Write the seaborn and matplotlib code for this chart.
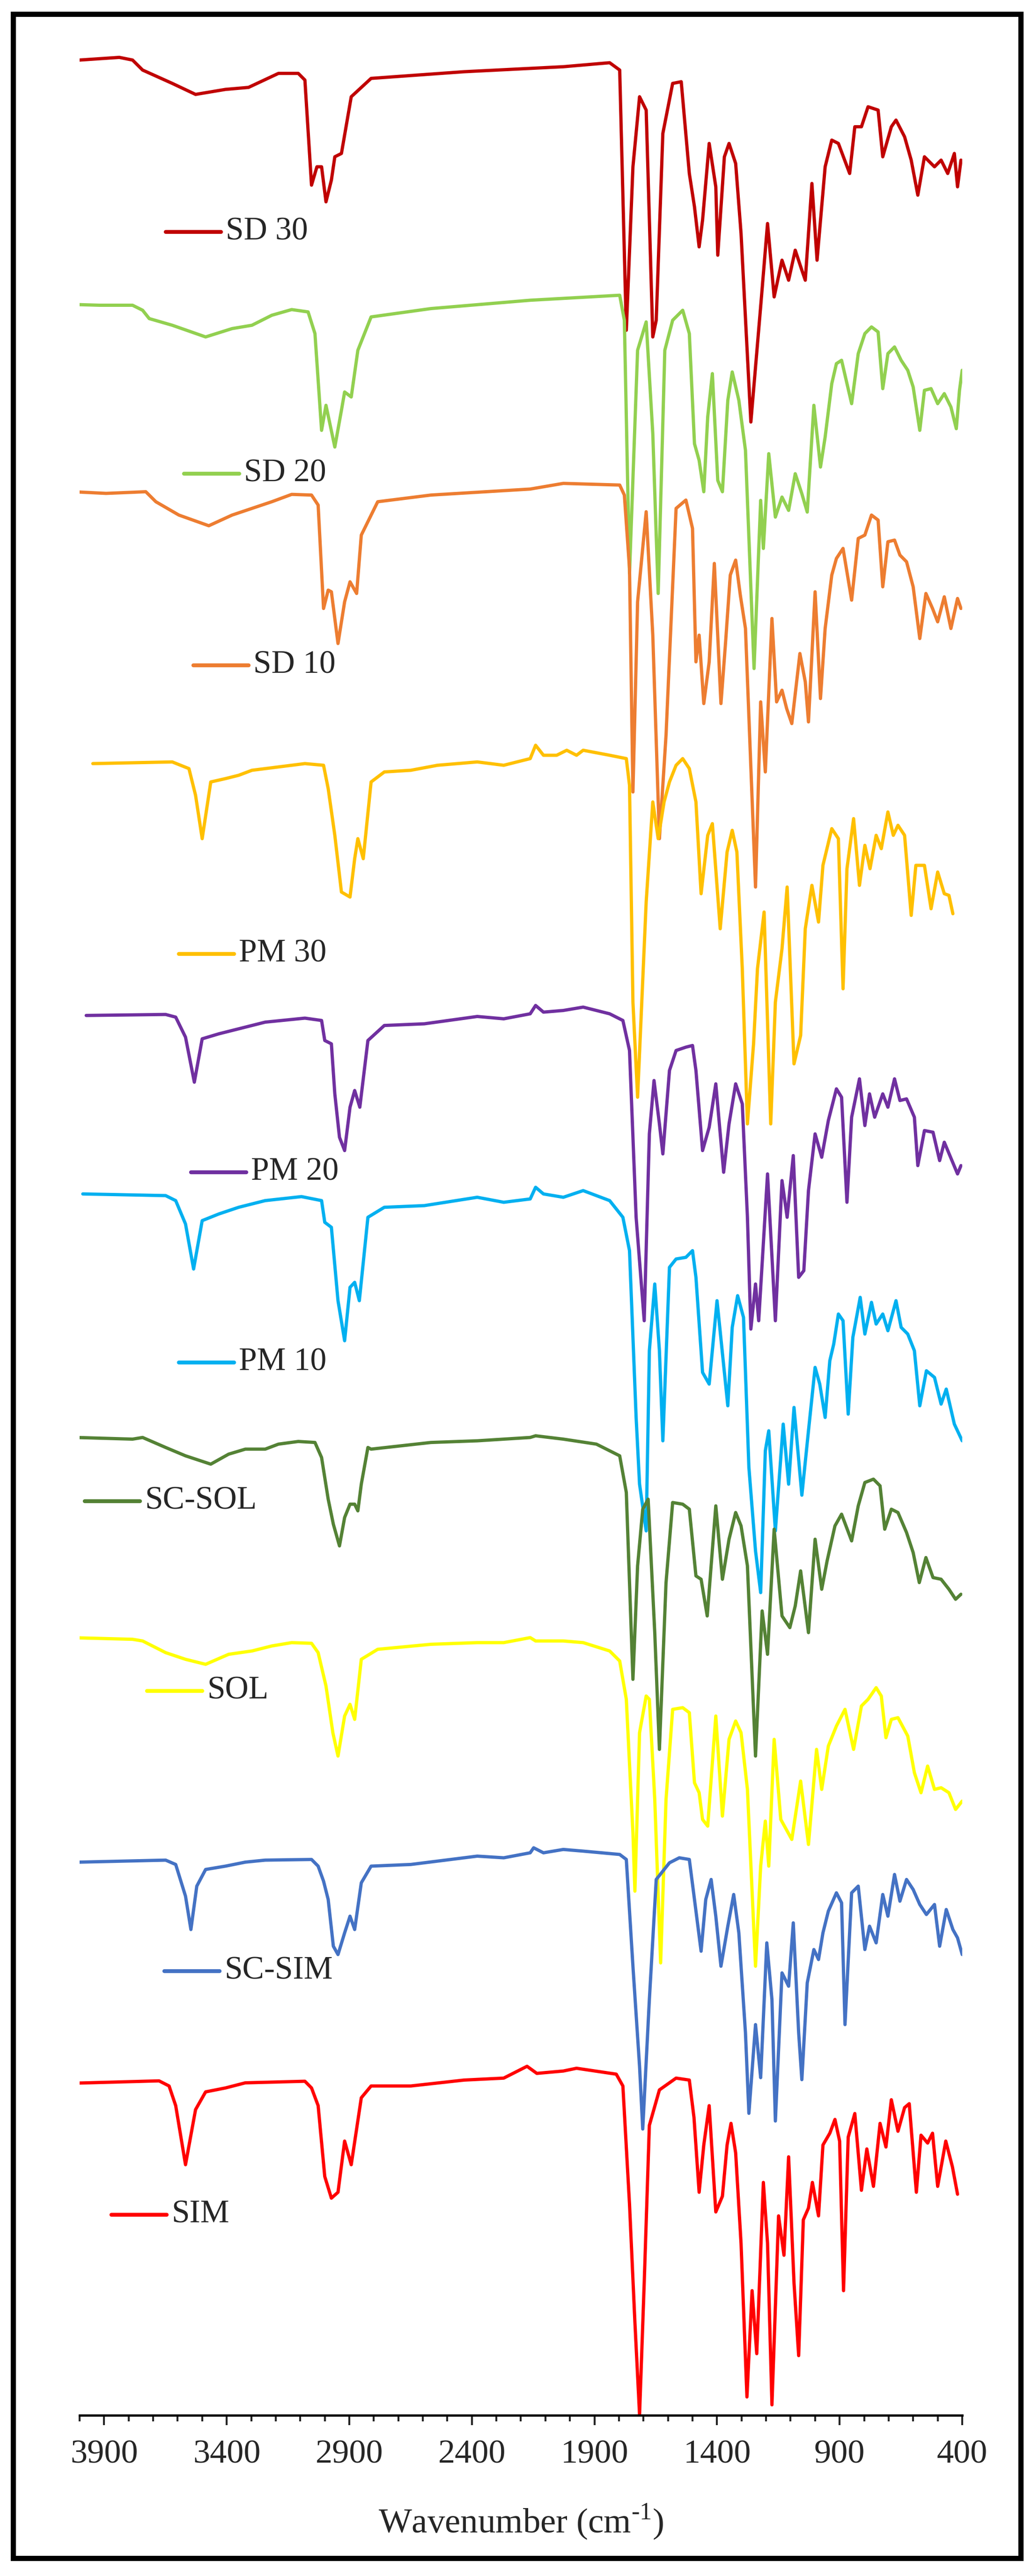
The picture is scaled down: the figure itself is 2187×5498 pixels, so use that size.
import matplotlib
matplotlib.use("Agg")
import matplotlib.pyplot as plt
import seaborn as sns
import pandas as pd
from matplotlib.lines import Line2D
from matplotlib.patches import Rectangle

# (wavenumber cm-1, depth reading) pairs, per spectrum
SD30 = [(4000,180),(3838,172),(3784,180),(3743,210),(3622,250),(3527,283),(3405,268),(3311,262),(3189,220),(3108,220),(3081,240),(3054,555),(3032,500),(3013,500),(2995,605),(2973,540),(2959,470),(2932,460),(2892,290),(2811,235),(2432,215),(2027,200),(1838,188),(1797,210),(1770,990),(1743,500),(1716,290),(1689,330),(1662,1010),(1648,960),(1621,400),(1581,250),(1546,245),(1513,520),(1492,620),(1473,740),(1459,660),(1432,430),(1405,560),(1397,765),(1370,470),(1351,430),(1324,490),(1302,700),(1262,1265),(1221,910),(1194,670),(1167,890),(1135,780),(1108,840),(1081,750),(1054,810),(1040,840),(1013,550),(992,780),(959,500),(932,420),(905,430),(859,520),(838,380),(811,380),(784,320),(743,330),(724,470),(689,380),(670,360),(635,410),(608,480),(581,585),(554,470),(513,500),(486,480),(459,520),(432,460),(419,560),(405,480)]
SD20 = [(4054,912),(3919,915),(3784,915),(3743,930),(3716,955),(3622,975),(3486,1010),(3378,985),(3297,975),(3216,945),(3135,928),(3068,935),(3040,1000),(3013,1290),(2995,1215),(2959,1340),(2932,1230),(2919,1175),(2892,1190),(2865,1050),(2811,950),(2567,925),(2162,900),(1797,885),(1778,960),(1757,1719),(1724,1050),(1689,965),(1662,1300),(1640,1779),(1613,1050),(1581,960),(1540,930),(1513,1000),(1492,1330),(1473,1380),(1454,1474),(1438,1250),(1419,1120),(1397,1440),(1378,1474),(1356,1200),(1338,1115),(1311,1200),(1284,1350),(1249,2004),(1222,1500),(1211,1644),(1189,1360),(1162,1550),(1135,1490),(1108,1530),(1081,1420),(1054,1480),(1032,1535),(1005,1215),(978,1400),(959,1310),(932,1150),(913,1090),(892,1080),(851,1210),(824,1060),(797,1000),(770,980),(743,995),(724,1165),(703,1060),(676,1040),(649,1080),(622,1110),(600,1160),(573,1290),(554,1170),(527,1165),(500,1210),(473,1180),(446,1220),(424,1285),(411,1170),(400,1110)]
SD10 = [(4027,70),(3892,75),(3730,70),(3689,100),(3595,140),(3473,172),(3378,140),(3297,120),(3216,100),(3135,78),(3054,80),(3027,110),(3005,420),(2986,365),(2973,370),(2946,525),(2919,400),(2897,340),(2870,375),(2851,200),(2784,100),(2567,80),(2162,62),(2027,45),(1797,50),(1778,80),(1757,300),(1743,970),(1724,400),(1689,130),(1662,500),(1635,1110),(1608,800),(1567,120),(1527,95),(1500,180),(1486,580),(1473,500),(1454,705),(1432,580),(1411,285),(1384,705),(1365,520),(1346,320),(1324,275),(1305,380),(1284,480),(1243,1255),(1222,700),(1203,910),(1176,450),(1157,700),(1135,665),(1116,720),(1095,765),(1062,555),(1040,640),(1027,760),(1000,370),(978,690),(959,480),(932,320),(913,270),(886,240),(851,395),(824,210),(797,200),(770,140),(743,155),(724,355),(703,220),(676,215),(654,260),(627,280),(600,355),(573,510),(548,375),(521,420),(500,460),(473,385),(446,480),(419,390),(405,420)]
PM30 = [(3946,885),(3622,880),(3554,900),(3527,980),(3500,1110),(3465,940),(3405,930),(3351,920),(3297,905),(3081,885),(3005,890),(2986,960),(2959,1100),(2932,1270),(2897,1285),(2878,1170),(2865,1110),(2843,1170),(2811,940),(2757,910),(2649,905),(2540,890),(2378,880),(2270,890),(2162,870),(2140,830),(2108,860),(2054,860),(2013,845),(1973,860),(1946,845),(1838,860),(1770,870),(1757,950),(1743,1600),(1724,1885),(1689,1300),(1662,1000),(1640,1110),(1616,1000),(1594,940),(1567,890),(1540,870),(1513,900),(1486,1000),(1465,1275),(1438,1100),(1419,1065),(1387,1380),(1359,1150),(1338,1085),(1319,1150),(1297,1500),(1276,1965),(1251,1725),(1235,1500),(1208,1330),(1181,1965),(1162,1600),(1135,1440),(1114,1255),(1086,1785),(1059,1700),(1040,1380),(1013,1250),(986,1360),(968,1190),(932,1080),(905,1110),(886,1560),(870,1200),(843,1050),(819,1250),(797,1130),(776,1200),(751,1100),(730,1140),(703,1030),(681,1100),(662,1070),(635,1100),(608,1340),(589,1190),(554,1190),(527,1320),(500,1210),(473,1275),(454,1280),(438,1335)]
PM20 = [(3973,95),(3649,92),(3608,100),(3568,160),(3532,295),(3500,165),(3432,150),(3351,135),(3243,115),(3081,103),(3013,110),(3000,170),(2973,180),(2959,330),(2940,460),(2919,500),(2897,370),(2878,320),(2857,370),(2824,170),(2757,125),(2594,120),(2378,98),(2270,105),(2162,90),(2140,65),(2108,85),(2027,80),(1946,70),(1838,90),(1784,110),(1757,200),(1730,700),(1697,1010),(1676,450),(1657,290),(1635,420),(1621,510),(1594,260),(1567,200),(1527,190),(1500,185),(1486,260),(1459,500),(1432,430),(1405,300),(1373,565),(1351,420),(1324,300),(1297,360),(1276,700),(1262,1035),(1243,900),(1230,1010),(1194,570),(1162,1010),(1135,590),(1114,700),(1089,515),(1067,880),(1046,860),(1027,620),(1000,450),(973,520),(946,410),(913,315),(892,340),(870,655),(851,400),(819,285),(797,425),(778,330),(757,400),(724,330),(703,370),(676,285),(654,350),(627,345),(595,400),(581,545),(554,440),(519,445),(492,530),(473,475),(419,570),(405,545)]
PM10 = [(3987,630),(3649,635),(3608,650),(3568,720),(3535,855),(3500,710),(3432,690),(3351,670),(3243,650),(3095,638),(3013,650),(3000,715),(2973,730),(2946,950),(2919,1070),(2897,910),(2878,895),(2859,950),(2824,700),(2757,670),(2594,665),(2378,640),(2270,655),(2162,645),(2140,610),(2108,630),(2027,640),(1946,620),(1838,650),(1784,700),(1757,800),(1730,1300),(1716,1500),(1689,1640),(1676,1100),(1654,900),(1635,1100),(1621,1370),(1594,850),(1567,825),(1527,820),(1500,800),(1486,880),(1459,1165),(1432,1200),(1400,950),(1356,1265),(1338,1030),(1316,935),(1292,1000),(1270,1450),(1243,1700),(1222,1825),(1203,1400),(1189,1340),(1162,1640),(1130,1320),(1108,1500),(1086,1270),(1054,1533),(1027,1340),(1000,1150),(981,1200),(959,1300),(940,1130),(924,1080),(905,990),(886,1010),(865,1290),(846,1060),(816,940),(797,1050),(770,955),(751,1020),(724,990),(703,1040),(670,950),(649,1030),(622,1050),(595,1100),(573,1265),(546,1160),(513,1180),(486,1260),(465,1215),(432,1320),(400,1370)]
SC_SOL = [(4014,1360),(3784,1365),(3743,1360),(3649,1390),(3568,1415),(3465,1440),(3392,1410),(3324,1395),(3243,1395),(3189,1380),(3108,1372),(3040,1375),(3013,1420),(2986,1545),(2965,1620),(2940,1685),(2919,1600),(2897,1560),(2878,1560),(2865,1580),(2851,1500),(2824,1390),(2811,1395),(2567,1375),(2378,1370),(2162,1360),(2140,1355),(2027,1365),(1892,1380),(1797,1415),(1770,1525),(1743,2085),(1724,1745),(1703,1575),(1681,1545),(1654,1945),(1635,2295),(1608,1795),(1581,1555),(1540,1560),(1513,1575),(1486,1775),(1465,1785),(1440,1895),(1405,1565),(1378,1785),(1351,1665),(1324,1585),(1302,1625),(1276,1745),(1243,2315),(1216,1880),(1194,2010),(1167,1635),(1135,1895),(1103,1930),(1081,1865),(1059,1760),(1027,1945),(1000,1665),(973,1815),(951,1730),(919,1625),(892,1590),(851,1670),(824,1565),(797,1495),(762,1485),(735,1505),(716,1635),(689,1575),(662,1585),(627,1645),(600,1705),(575,1795),(548,1720),(519,1780),(486,1785),(454,1815),(427,1845),(405,1830)]
SOL = [(4041,415),(3784,420),(3743,425),(3649,460),(3568,480),(3486,495),(3392,465),(3297,455),(3216,440),(3135,430),(3054,432),(3027,460),(2995,560),(2967,700),(2946,770),(2919,650),(2897,615),(2878,660),(2851,480),(2784,450),(2567,435),(2378,430),(2270,430),(2162,415),(2140,425),(2027,425),(1946,430),(1838,455),(1797,485),(1770,600),(1743,1000),(1735,1175),(1716,700),(1689,590),(1676,600),(1654,900),(1630,1390),(1608,900),(1581,630),(1540,625),(1513,640),(1492,850),(1473,880),(1459,960),(1438,980),(1405,650),(1378,950),(1351,720),(1324,665),(1302,700),(1276,870),(1243,1400),(1222,1100),(1203,965),(1189,1100),(1167,720),(1140,960),(1095,1020),(1059,845),(1027,1035),(994,750),(973,870),(946,740),(913,680),(878,630),(843,750),(811,620),(784,600),(751,565),(730,590),(711,715),(689,660),(662,655),(622,710),(595,820),(568,880),(541,800),(513,870),(486,865),(454,880),(427,930),(400,905)]
SC_SIM = [(4000,1088),(3649,1082),(3608,1095),(3568,1190),(3546,1290),(3522,1160),(3486,1110),(3405,1100),(3324,1088),(3243,1082),(3054,1080),(3027,1100),(3005,1145),(2986,1200),(2965,1340),(2946,1365),(2919,1300),(2897,1250),(2878,1290),(2851,1150),(2811,1100),(2649,1095),(2486,1080),(2378,1070),(2270,1075),(2162,1060),(2148,1045),(2108,1060),(2027,1050),(1946,1055),(1797,1065),(1770,1080),(1743,1400),(1716,1700),(1703,1888),(1676,1500),(1648,1140),(1594,1090),(1554,1075),(1513,1080),(1492,1200),(1465,1355),(1446,1200),(1424,1140),(1405,1250),(1384,1400),(1356,1280),(1332,1185),(1311,1300),(1284,1600),(1270,1841),(1243,1575),(1222,1734),(1197,1330),(1176,1500),(1162,1864),(1135,1420),(1122,1439),(1108,1460),(1089,1270),(1067,1600),(1054,1740),(1032,1450),(1005,1350),(986,1380),(968,1300),(946,1235),(913,1180),(892,1210),(878,1575),(851,1180),(824,1160),(797,1350),(778,1280),(751,1330),(724,1185),(703,1250),(676,1125),(654,1205),(627,1140),(600,1170),(573,1215),(546,1245),(513,1215),(492,1340),(465,1230),(438,1290),(419,1315),(400,1365)]
SIM = [(4027,293),(3676,287),(3635,300),(3608,350),(3568,500),(3527,360),(3486,315),(3405,305),(3324,292),(3081,288),(3054,305),(3027,350),(3000,530),(2973,585),(2946,570),(2919,440),(2892,500),(2851,330),(2811,300),(2649,300),(2432,285),(2270,280),(2175,250),(2135,268),(2027,262),(1973,255),(1811,270),(1784,300),(1757,600),(1735,900),(1716,1135),(1697,800),(1676,400),(1635,310),(1567,280),(1513,285),(1494,380),(1473,570),(1454,450),(1432,350),(1405,620),(1378,580),(1359,450),(1343,395),(1324,470),(1302,700),(1278,1090),(1257,820),(1238,980),(1211,545),(1194,700),(1176,1110),(1149,630),(1127,730),(1108,480),(1086,800),(1067,985),(1048,640),(1027,610),(1011,545),(986,630),(968,450),(940,420),(919,385),(900,440),(884,820),(865,430),(838,370),(811,565),(789,460),(762,555),(735,395),(711,455),(689,335),(662,415),(635,355),(616,345),(587,570),(568,425),(541,445),(521,420),(500,555),(467,440),(440,505),(419,575)]

labels = ["SD 30", "SD 20", "SD 10", "PM 30", "PM 20", "PM 10", "SC-SOL", "SOL", "SC-SIM", "SIM"]
spectra = [SD30, SD20, SD10, PM30, PM20, PM10, SC_SOL, SOL, SC_SIM, SIM]
offsets = [0, 0, 1404, 1404, 2949, 2949, 2949, 4494, 4494, 5899]
scales = [1, 1, 1, 1, 1, 1, 1, 1, 1, 1.18]
colors = ["#C00000", "#92D050", "#ED7D31", "#FFC000", "#7030A0",
          "#00B0F0", "#548235", "#FFFF00", "#4472C4", "#FF0000"]

W, H = 2187, 5498
sns.set_style("white")
plt.rcParams["font.family"] = ["Liberation Serif", "DejaVu Serif"]
plt.rcParams["mathtext.fontset"] = "custom"
plt.rcParams["mathtext.rm"] = "Liberation Serif"

fig = plt.figure(figsize=(W / 100, H / 100), dpi=100)
ax = fig.add_axes([170 / W, 1 - 5155 / H, (2055 - 170) / W, 5155 / H])

for name, spec, off, sc, col in zip(labels, spectra, offsets, scales, colors):
    df = pd.DataFrame(spec, columns=["wn", "depth"])
    df["y"] = off + df["depth"] * sc
    sns.lineplot(data=df, x="wn", y="y", sort=False, color=col, lw=5, ax=ax)

ax.set_xlim(4000, 400)
ax.set_ylim(5155 / 0.712, 0)
ax.set_xticks(range(3900, 399, -500))
ax.set_xticks(range(4000, 399, -100), minor=True)
ax.tick_params(axis="x", which="major", direction="out", length=15, width=3,
               labelsize=52, pad=22, bottom=True)
ax.tick_params(axis="x", which="minor", direction="out", length=9, width=3, bottom=True)
ax.set_yticks([])
ax.set_ylabel("")
ax.set_xlabel(r"Wavenumber (cm$^{\text{-1}}$)", fontsize=54, labelpad=50)
for s in ["left", "right", "top"]:
    ax.spines[s].set_visible(False)
ax.spines["bottom"].set_linewidth(3.5)
ax.spines["bottom"].set_color("black")

# inline legend: short line + label, positions in figure pixels
legend_pos = [(354, 495), (393, 1011), (413, 1420), (382, 2036), (408, 2502),
              (382, 2908), (181, 3204), (314, 3609), (351, 4207), (238, 4727)]
for name, col, (lx, ly) in zip(labels, colors, legend_pos):
    fy = 1 - ly / H
    fig.add_artist(Line2D([lx / W, (lx + 118) / W], [fy, fy], color=col, lw=6,
                          transform=fig.transFigure))
    fig.text((lx + 128) / W, fy, name, fontsize=50, va="center", ha="left")

fig.add_artist(Rectangle((28 / W, 1 - 5460 / H), (2180 - 28) / W, (5460 - 30) / H,
                         transform=fig.transFigure, fill=False, lw=8, ec="black"))

fig.savefig("out.png", dpi=100)
